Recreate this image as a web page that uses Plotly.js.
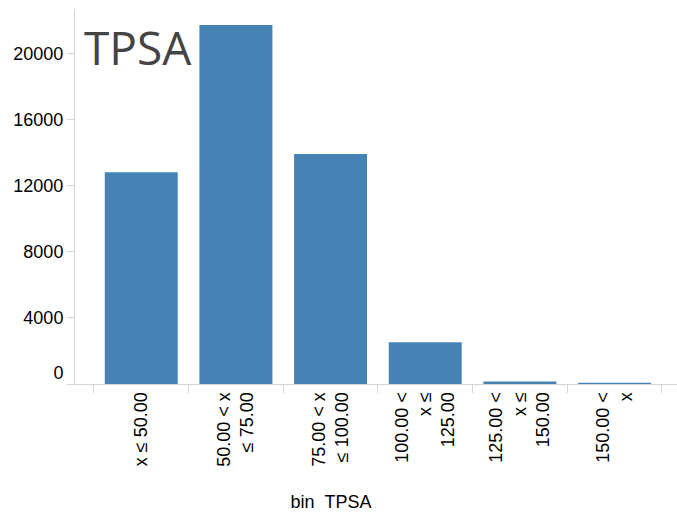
<!DOCTYPE html>
<html>
<head>
<meta charset="utf-8">
<script src="https://cdn.plot.ly/plotly-3.0.1.min.js"></script>
<style>html,body{margin:0;padding:0;background:#fff;}#chart{width:677px;height:512px;}</style>
</head>
<body>
<div id="chart"></div>
<script>
var categories = ["x ≤ 50.00", "50.00 &lt; x<br>≤ 75.00", "75.00 &lt; x<br>≤ 100.00", "100.00 &lt;<br>x ≤<br>125.00", "125.00 &lt;<br>x ≤<br>150.00", "150.00 &lt;<br>x"];
var counts = [12820, 21740, 13930, 2525, 150, 70];
var yTickVals = [0, 4000, 8000, 12000, 16000, 20000];
var yTickText = ["0<br>&nbsp;", "4000", "8000", "12000", "16000", "20000"];

var pad = "";
for (var i = 0; i < 18; i++) pad += "&nbsp;";

var trace = {
  type: "bar",
  x: categories,
  y: counts,
  marker: {color: "#4682b4", line: {width: 0}},
  hoverinfo: "x+y"
};

var layout = {
  width: 677,
  height: 512,
  margin: {l: 75, r: 0, t: 9, b: 128, pad: 0},
  paper_bgcolor: "#fff",
  plot_bgcolor: "#fff",
  bargap: 0.229,
  showlegend: false,
  title: {
    text: "TPSA",
    font: {family: "Open Sans", size: 46, color: "#444"},
    xref: "container", yref: "container",
    x: 84 / 677, xanchor: "left",
    y: 1 - 33 / 512, yanchor: "top"
  },
  xaxis: {
    type: "category",
    range: [-0.70, 5.66],
    tickson: "boundaries",
    ticks: "outside",
    ticklen: 8,
    tickcolor: "#d6d6d6",
    tickwidth: 1,
    showline: true,
    linecolor: "#d6d6d6",
    linewidth: 1,
    showgrid: false,
    zeroline: false,
    tickangle: -90,
    tickfont: {family: "Liberation Sans, Arial, sans-serif", size: 18, color: "#000"},
    automargin: false,
    title: {
      text: "bin&nbsp;&nbsp;TPSA" + pad,
      font: {family: "Liberation Sans, Arial, sans-serif", size: 18, color: "#000"},
      standoff: 30
    }
  },
  yaxis: {
    range: [0, 22707],
    tickmode: "array",
    tickvals: yTickVals,
    ticktext: yTickText,
    ticks: "outside",
    ticklen: 7,
    tickcolor: "#d6d6d6",
    tickwidth: 1,
    showline: true,
    linecolor: "#d6d6d6",
    linewidth: 1,
    showgrid: false,
    zeroline: false,
    tickfont: {family: "Liberation Sans, Arial, sans-serif", size: 18, color: "#000"},
    automargin: false
  }
};

Plotly.newPlot("chart", [trace], layout, {displayModeBar: false, staticPlot: true});
</script>
</body>
</html>
